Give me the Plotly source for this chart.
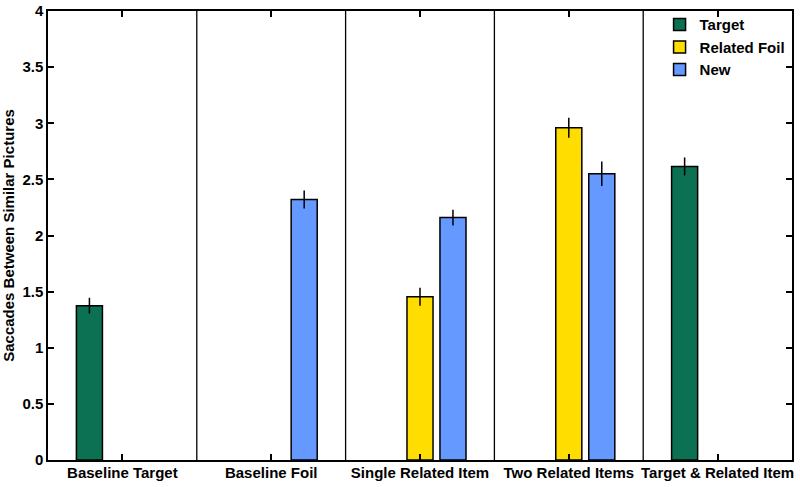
import plotly.graph_objects as go

categories = ["Baseline Target", "Baseline Foil", "Single Related Item", "Two Related Items", "Target & Related Item"]
target = [1.375, None, None, None, 2.615]
target_err = [0.07, None, None, None, 0.08]
related_foil = [None, None, 1.455, 2.96, None]
related_foil_err = [None, None, 0.08, 0.09, None]
new = [None, 2.32, 2.16, 2.55, None]
new_err = [None, 0.08, 0.07, 0.11, None]

series = [
    ("Target", target, target_err, "#0c7052"),
    ("Related Foil", related_foil, related_foil_err, "#ffdd00"),
    ("New", new, new_err, "#6699ff"),
]

fig = go.Figure()
for name, vals, errs, color in series:
    fig.add_trace(go.Bar(
        x=categories, y=vals, name=name,
        marker=dict(color=color, line=dict(color="black", width=1.5)),
        error_y=dict(type="data", array=[e if e is not None else 0 for e in errs],
                     color="black", thickness=1.5, width=0),
    ))

for xv in [0.5, 1.5, 2.5, 3.5]:
    fig.add_shape(type="line", xref="x", yref="paper", x0=xv, x1=xv, y0=0, y1=1,
                  line=dict(color="black", width=1.3))

fig.update_layout(
    width=800, height=487,
    margin=dict(l=48, r=8, t=11, b=27, autoexpand=False),
    barmode="group", bargap=0.335, bargroupgap=0.21,
    plot_bgcolor="white", paper_bgcolor="white",
    font=dict(family="Liberation Sans, Arial, sans-serif", color="black", size=13),
    showlegend=True,
    legend=dict(x=0.822, y=1.006, xanchor="left", yanchor="top",
                bgcolor="rgba(255,255,255,0)", borderwidth=0,
                font=dict(size=15, family="Liberation Sans, Arial, sans-serif", weight="bold"),
                tracegroupgap=0, itemwidth=30),
    xaxis=dict(
        showline=True, linecolor="black", linewidth=1.5, mirror="ticks",
        ticks="inside", ticklen=6, tickcolor="black", tickwidth=1.5,
        tickfont=dict(size=15, weight="bold"), automargin=False,
        ticklabelstandoff=-2,
        range=[-0.5, 4.5],
    ),
    yaxis=dict(
        range=[0, 4], dtick=0.5, showgrid=False, zeroline=False,
        showline=True, linecolor="black", linewidth=1.5, mirror="ticks",
        ticks="inside", ticklen=6, tickcolor="black", tickwidth=1.5,
        tickfont=dict(size=15, weight="bold"), automargin=False,
        title=dict(text="Saccades Between Similar Pictures", font=dict(size=15, weight="bold"), standoff=6),
    ),
)

fig.write_html("out.html", config={"displayModeBar": False},
               post_script="document.body.style.margin='0px';")
